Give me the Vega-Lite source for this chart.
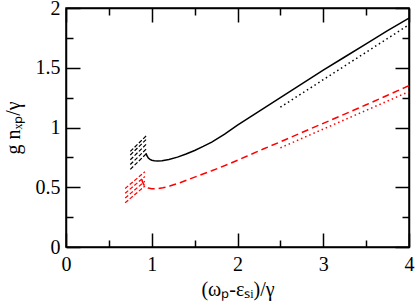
{
  "$schema": "https://vega.github.io/schema/vega-lite/v6.json",
  "width": 343,
  "height": 239,
  "autosize": {"type": "none"},
  "padding": {"left": 66, "top": 8, "right": 6, "bottom": 59},
  "config": {
    "font": "Liberation Serif",
    "view": {"stroke": "black", "strokeWidth": 1.5},
    "axis": {
      "grid": false,
      "domainColor": "black",
      "domainWidth": 1.5,
      "tickColor": "black",
      "tickWidth": 1.5,
      "labelFont": "Liberation Serif",
      "labelFontSize": 20,
      "labelColor": "black",
      "labelFlush": false,
      "labelOverlap": false,
      "titleFont": "Liberation Serif",
      "titleFontSize": 20,
      "titleFontWeight": "normal",
      "titleColor": "black"
    }
  },
  "datasets": {
    "curves": [
      {"s": "bs", "x": 0.933, "y": 0.785},
      {"s": "bs", "x": 0.945, "y": 0.762},
      {"s": "bs", "x": 0.96, "y": 0.745},
      {"s": "bs", "x": 0.98, "y": 0.733},
      {"s": "bs", "x": 1.0, "y": 0.726},
      {"s": "bs", "x": 1.03, "y": 0.721},
      {"s": "bs", "x": 1.07, "y": 0.719},
      {"s": "bs", "x": 1.12, "y": 0.722},
      {"s": "bs", "x": 1.2, "y": 0.732},
      {"s": "bs", "x": 1.3, "y": 0.752},
      {"s": "bs", "x": 1.4, "y": 0.778},
      {"s": "bs", "x": 1.5, "y": 0.808},
      {"s": "bs", "x": 1.6, "y": 0.842},
      {"s": "bs", "x": 1.7, "y": 0.878},
      {"s": "bs", "x": 1.85, "y": 0.945},
      {"s": "bs", "x": 2.0, "y": 1.02},
      {"s": "bs", "x": 2.25, "y": 1.135},
      {"s": "bs", "x": 2.5, "y": 1.25},
      {"s": "bs", "x": 2.75, "y": 1.365},
      {"s": "bs", "x": 3.0, "y": 1.48},
      {"s": "bs", "x": 3.25, "y": 1.59},
      {"s": "bs", "x": 3.5, "y": 1.7},
      {"s": "bs", "x": 3.75, "y": 1.81},
      {"s": "bs", "x": 4.0, "y": 1.915},
      {"s": "rd", "x": 0.883, "y": 0.567},
      {"s": "rd", "x": 0.895, "y": 0.54},
      {"s": "rd", "x": 0.91, "y": 0.518},
      {"s": "rd", "x": 0.93, "y": 0.503},
      {"s": "rd", "x": 0.96, "y": 0.493},
      {"s": "rd", "x": 1.0, "y": 0.488},
      {"s": "rd", "x": 1.06, "y": 0.488},
      {"s": "rd", "x": 1.13, "y": 0.495},
      {"s": "rd", "x": 1.21, "y": 0.51},
      {"s": "rd", "x": 1.33, "y": 0.538},
      {"s": "rd", "x": 1.5, "y": 0.585},
      {"s": "rd", "x": 1.7, "y": 0.638},
      {"s": "rd", "x": 1.9, "y": 0.695},
      {"s": "rd", "x": 2.1, "y": 0.757},
      {"s": "rd", "x": 2.3, "y": 0.82},
      {"s": "rd", "x": 2.5, "y": 0.88},
      {"s": "rd", "x": 2.75, "y": 0.958},
      {"s": "rd", "x": 3.0, "y": 1.035},
      {"s": "rd", "x": 3.25, "y": 1.112},
      {"s": "rd", "x": 3.5, "y": 1.19},
      {"s": "rd", "x": 3.75, "y": 1.27},
      {"s": "rd", "x": 4.0, "y": 1.35},
      {"s": "bd", "x": 2.5, "y": 1.17},
      {"s": "bd", "x": 4.0, "y": 1.86},
      {"s": "rdot", "x": 2.5, "y": 0.83},
      {"s": "rdot", "x": 4.0, "y": 1.3}
    ],
    "hatch": [
      {"c": "black", "x": 0.75, "y": 0.65, "x2": 0.95, "y2": 0.79},
      {"c": "black", "x": 0.75, "y": 0.69, "x2": 0.95, "y2": 0.83},
      {"c": "black", "x": 0.75, "y": 0.73, "x2": 0.95, "y2": 0.87},
      {"c": "black", "x": 0.75, "y": 0.77, "x2": 0.95, "y2": 0.91},
      {"c": "black", "x": 0.75, "y": 0.80, "x2": 0.95, "y2": 0.94},
      {"c": "red", "x": 0.69, "y": 0.37, "x2": 0.92, "y2": 0.51},
      {"c": "red", "x": 0.69, "y": 0.41, "x2": 0.92, "y2": 0.55},
      {"c": "red", "x": 0.69, "y": 0.45, "x2": 0.92, "y2": 0.59},
      {"c": "red", "x": 0.69, "y": 0.49, "x2": 0.92, "y2": 0.63}
    ]
  },
  "resolve": {"axis": {"x": "independent", "y": "independent"}},
  "layer": [
    {
      "data": {"name": "curves"},
      "transform": [{"filter": "datum.s === 'bs'"}],
      "mark": {"type": "line", "color": "black", "strokeWidth": 1.5},
      "encoding": {
        "x": {
          "field": "x", "type": "quantitative",
          "scale": {"domain": [0, 4], "nice": false, "zero": false},
          "axis": {
            "orient": "bottom",
            "values": [0, 0.5, 1, 1.5, 2, 2.5, 3, 3.5, 4],
            "labelExpr": "datum.value % 1 === 0 ? toString(datum.value) : ''",
            "tickSize": {"condition": {"test": "datum.value % 1 === 0", "value": -14}, "value": -7},
            "labelPadding": 21,
            "title": "(ωₚ-εₛᵢ)/γ",
            "titlePadding": -2
          }
        },
        "y": {
          "field": "y", "type": "quantitative",
          "scale": {"domain": [0, 2], "nice": false, "zero": false},
          "axis": {
            "orient": "left",
            "values": [0, 0.25, 0.5, 0.75, 1, 1.25, 1.5, 1.75, 2],
            "labelExpr": "datum.value % 0.5 === 0 ? toString(datum.value) : ''",
            "tickSize": {"condition": {"test": "datum.value % 0.5 === 0", "value": -14}, "value": -7},
            "labelPadding": 20,
            "title": "g nₓₚ/γ",
            "titlePadding": 12
          }
        }
      }
    },
    {
      "data": {"name": "curves"},
      "transform": [{"filter": "datum.s === 'rd'"}],
      "mark": {"type": "line", "color": "#ff0000", "strokeWidth": 1.5, "strokeDash": [7, 4]},
      "encoding": {
        "x": {
          "field": "x", "type": "quantitative",
          "axis": {
            "orient": "top",
            "values": [0, 0.5, 1, 1.5, 2, 2.5, 3, 3.5, 4],
            "labels": false,
            "tickSize": {"condition": {"test": "datum.value % 1 === 0", "value": -14}, "value": -7},
            "title": null
          }
        },
        "y": {
          "field": "y", "type": "quantitative",
          "axis": {
            "orient": "right",
            "values": [0, 0.25, 0.5, 0.75, 1, 1.25, 1.5, 1.75, 2],
            "labels": false,
            "tickSize": {"condition": {"test": "datum.value % 0.5 === 0", "value": -14}, "value": -7},
            "title": null
          }
        }
      }
    },
    {
      "data": {"name": "curves"},
      "transform": [{"filter": "datum.s === 'bd'"}],
      "mark": {"type": "line", "color": "black", "strokeWidth": 1.5, "strokeDash": [1.5, 3]},
      "encoding": {
        "x": {"field": "x", "type": "quantitative", "axis": null},
        "y": {"field": "y", "type": "quantitative", "axis": null}
      }
    },
    {
      "data": {"name": "curves"},
      "transform": [{"filter": "datum.s === 'rdot'"}],
      "mark": {"type": "line", "color": "#ff0000", "strokeWidth": 1.5, "strokeDash": [1.5, 3]},
      "encoding": {
        "x": {"field": "x", "type": "quantitative", "axis": null},
        "y": {"field": "y", "type": "quantitative", "axis": null}
      }
    },
    {
      "data": {"name": "hatch"},
      "mark": {"type": "rule", "strokeWidth": 1.2, "strokeDash": [4, 2]},
      "encoding": {
        "x": {"field": "x", "type": "quantitative", "axis": null},
        "y": {"field": "y", "type": "quantitative", "axis": null},
        "x2": {"field": "x2"},
        "y2": {"field": "y2"},
        "color": {"field": "c", "type": "nominal", "scale": null}
      }
    }
  ]
}
